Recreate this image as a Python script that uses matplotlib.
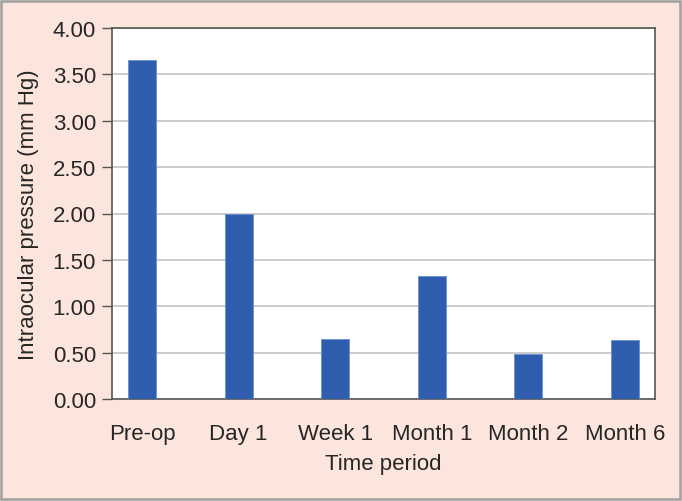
import matplotlib
matplotlib.use("Agg")
import matplotlib.pyplot as plt
from matplotlib.patches import Rectangle

categories = ["Pre-op", "Day 1", "Week 1", "Month 1", "Month 2", "Month 6"]
values = [3.66, 1.99, 0.65, 1.33, 0.48, 0.64]
yticks = [0.0, 0.5, 1.0, 1.5, 2.0, 2.5, 3.0, 3.5, 4.0]

plt.rcParams['font.family'] = ['Liberation Sans', 'DejaVu Sans']

fig = plt.figure(figsize=(6.82, 5.02), dpi=100)
fig.patch.set_facecolor('#fce5dc')
fig.patches.append(Rectangle((0.002, 0.004), 0.995, 0.992, transform=fig.transFigure,
                             fill=False, edgecolor='#a0a0a0', linewidth=1.8))

W, H = 682, 502
left, right, top, bottom = 112, 655, 29, 400
ax = fig.add_axes([left / W, 1 - bottom / H, (right - left) / W, (bottom - top) / H])
ax.set_facecolor('white')

x = list(range(len(categories)))
ax.bar(x, values, width=0.29, color='#2e5ead', edgecolor='#6a8fd0', linewidth=0.6, zorder=3)

ax.set_xlim(-0.31, 5.31)
ax.set_ylim(0, 4)
ax.set_yticks(yticks)
ax.set_yticklabels([f"{v:.2f}" for v in yticks], fontsize=16, color='#262626')
ax.set_xticks(x)
ax.set_xticklabels(categories, fontsize=16, color='#262626')
ax.tick_params(axis='x', length=0, pad=17)
ax.tick_params(axis='y', length=7.5, width=1, color='#555555', pad=4)
ax.grid(axis='y', color='#c4c4c4', linewidth=1.2, zorder=0)
for s in ax.spines.values():
    s.set_color('#555555')
    s.set_linewidth(1.2)

ax.set_ylabel("Intraocular pressure (mm Hg)", fontsize=16, color='#262626', labelpad=10)
ax.set_xlabel("Time period", fontsize=16, color='#262626', labelpad=7)

fig.savefig("out.png", dpi=100, facecolor=fig.get_facecolor())
